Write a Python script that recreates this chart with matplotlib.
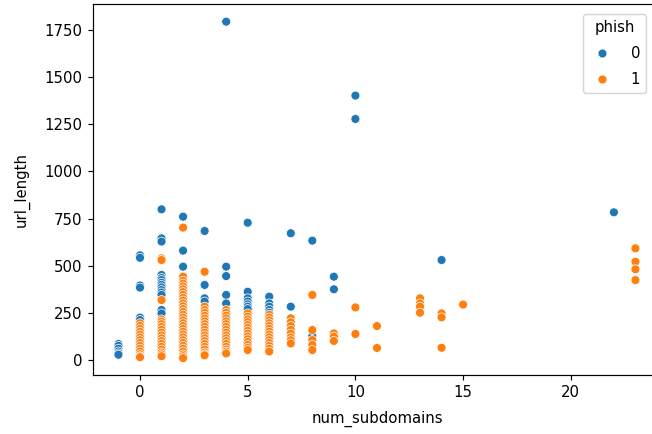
import pandas as pd
import matplotlib
matplotlib.use('Agg')
import matplotlib.pyplot as plt
import seaborn as sns

# === data (phish = 0) ===
legit_subdomains = [-1, -1, -1, -1, -1, -1,
                    0, 0, 0, 0, 0, 0,
                    1, 1, 1, 1, 1, 1, 1, 1, 1, 1, 1, 1, 1, 1,
                    2, 2, 2,
                    3, 3, 3, 3,
                    4, 4, 4, 4, 4, 4,
                    5, 5, 5, 5, 5, 5, 5,
                    6, 6, 6, 6, 6,
                    7, 7,
                    8, 8,
                    9, 9,
                    10, 10,
                    14,
                    22]
legit_url_length = [85, 75, 60, 45, 35, 28,
                    555, 542, 395, 384, 225, 212,
                    799, 645, 628, 451, 435, 424, 410, 398, 385, 371, 358, 345, 265, 247,
                    760, 580, 495,
                    684, 398, 327, 310,
                    1794, 495, 445, 345, 300, 248,
                    728, 362, 327, 310, 295, 283, 270,
                    336, 300, 283, 265, 250,
                    672, 283,
                    633, 127,
                    442, 375,
                    1402, 1278,
                    530,
                    783]

# === data (phish = 1) ===
phish_subdomains = ([0] * 14 + [1] * 18 + [2] * 31 + [3] * 20 + [4] * 17 +
                    [5] * 14 + [6] * 14 + [7] * 8 + [8] * 5 + [9] * 3 +
                    [10] * 2 + [11] * 2 + [13] * 4 + [14] * 3 + [15] + [23] * 4)
phish_url_length = [195, 180, 165, 150, 135, 120, 105, 90, 75, 60, 45, 30, 20, 15,
                    539, 530, 318, 215, 203, 190, 175, 160, 145, 130, 115, 100, 85, 70, 55, 40, 30, 20,
                    702, 442, 420, 405, 390, 375, 360, 345, 330, 315, 300, 285, 270, 255, 240, 225,
                    210, 195, 180, 165, 150, 135, 120, 105, 90, 75, 60, 45, 30, 20, 10,
                    468, 283, 265, 250, 235, 220, 205, 190, 175, 160, 145, 130, 115, 100, 85, 70,
                    55, 40, 30, 25,
                    265, 250, 235, 220, 205, 190, 175, 160, 145, 130, 115, 100, 85, 70, 55, 44, 35,
                    247, 230, 215, 200, 185, 170, 155, 140, 125, 110, 95, 80, 65, 53,
                    240, 225, 210, 195, 180, 165, 150, 135, 120, 105, 90, 75, 60, 45,
                    221, 200, 180, 160, 140, 120, 105, 88,
                    345, 159, 106, 80, 53,
                    141, 124, 101,
                    279, 138,
                    180, 64,
                    327, 300, 283, 251,
                    247, 226, 65,
                    294,
                    592, 521, 481, 424]

df = pd.DataFrame({
    'num_subdomains': legit_subdomains + phish_subdomains,
    'url_length': legit_url_length + phish_url_length,
    'phish': [0] * len(legit_subdomains) + [1] * len(phish_subdomains),
})

# === figure (reference is cropped on the right, so the axes run past the edge) ===
DPI = 107
fig = plt.figure(figsize=(652 / DPI, 434 / DPI), dpi=DPI)
ax = fig.add_axes([92.6 / 652, 59 / 434, 568.7 / 652, 370.5 / 434])

sns.scatterplot(data=df, x='num_subdomains', y='url_length', hue='phish', ax=ax)
ax.set_xlim(-2.2, 24.2)
ax.set_ylim(-79.5, 1885)
ax.set_xlabel('num_subdomains', labelpad=7)
ax.set_ylabel('url_length', labelpad=10)

ax.legend(title='phish', loc='upper right',
          bbox_to_anchor=(646 / 652, 1 - 14 / 434), bbox_transform=fig.transFigure,
          borderaxespad=0, labelspacing=0.75, handletextpad=1.0, handlelength=1.8)

fig.savefig('out.png', dpi=DPI)
